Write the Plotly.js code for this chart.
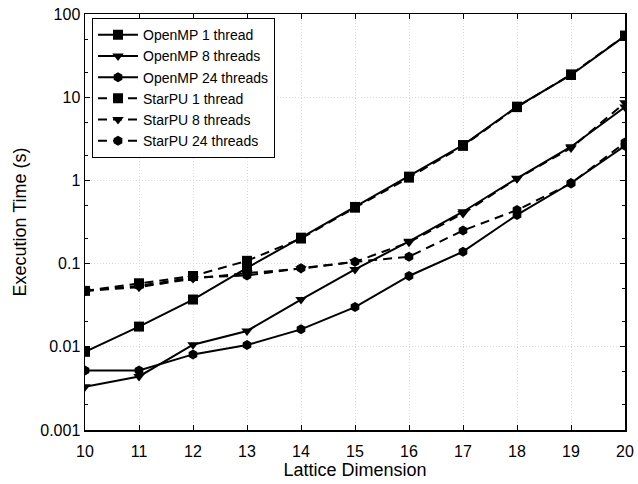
<!DOCTYPE html>
<html>
<head>
<meta charset="utf-8">
<script src="https://cdn.plot.ly/plotly-3.0.1.min.js"></script>
<style>html,body{margin:0;padding:0;background:#fff;}#chart{width:638px;height:484px;}</style>
</head>
<body>
<div id="chart"></div>
<script>
const latticeDims = [10, 11, 12, 13, 14, 15, 16, 17, 18, 19, 20];
const openmp1 = [0.0087, 0.0175, 0.037, 0.089, 0.205, 0.48, 1.11, 2.66, 7.7, 18.5, 54.5];
const openmp8 = [0.0033, 0.0044, 0.0106, 0.0155, 0.037, 0.085, 0.185, 0.42, 1.06, 2.54, 7.6];
const openmp24 = [0.0052, 0.0052, 0.0081, 0.0105, 0.0162, 0.030, 0.071, 0.139, 0.385, 0.93, 2.6];
const starpu1 = [0.047, 0.058, 0.071, 0.108, 0.200, 0.47, 1.08, 2.6, 7.6, 18.8, 55];
const starpu8 = [0.047, 0.052, 0.066, 0.077, 0.087, 0.105, 0.18, 0.40, 1.05, 2.45, 8.6];
const starpu24 = [0.047, 0.054, 0.068, 0.072, 0.088, 0.105, 0.121, 0.25, 0.44, 0.92, 2.85];
const seriesNames = ["OpenMP 1 thread", "OpenMP 8 threads", "OpenMP 24 threads", "StarPU 1 thread", "StarPU 8 threads", "StarPU 24 threads"];
const xTickLabels = ["10","11","12","13","14","15","16","17","18","19","20"];

const seriesData = [openmp1, openmp8, openmp24, starpu1, starpu8, starpu24];
const symbols = ["square", "triangle-down", "hexagon", "square", "triangle-down", "hexagon"];
const sizes = [10, 10, 10, 10, 10, 10];
const traces = seriesData.map((ys, i) => ({
  x: latticeDims, y: ys, name: seriesNames[i], type: "scatter", mode: "lines+markers",
  line: {color: "#000", width: 2, dash: i >= 3 ? "9px,6px" : "solid"},
  marker: {color: "#000", symbol: symbols[i], size: sizes[i]}
}));

const layout = {
  width: 638, height: 484,
  margin: {l: 85, r: 13, t: 14, b: 54},
  paper_bgcolor: "#fff", plot_bgcolor: "#fff",
  font: {family: "Liberation Sans, Arial, sans-serif", color: "#000", size: 16},
  showlegend: true,
  legend: {x: 0.013, y: 0.99, xanchor: "left", yanchor: "top", bgcolor: "#fff",
    bordercolor: "#000", borderwidth: 1, font: {size: 14}, tracegroupgap: 0, itemwidth: 40},
  xaxis: {range: [10, 20], tickvals: latticeDims, ticktext: xTickLabels, tickfont: {size: 16},
    ticklabelstandoff: 6,
    ticks: "inside", ticklen: 5, tickcolor: "#000", showline: true, linecolor: "#000", linewidth: 1.5,
    mirror: "ticks", showgrid: true, gridcolor: "#dcdcdc", griddash: "1px,2px", gridwidth: 1, zeroline: false,
    title: {text: "Lattice Dimension", font: {size: 18}, standoff: 2}},
  yaxis: {type: "log", range: [-3, 2], tickvals: [0.001, 0.01, 0.1, 1, 10, 100],
    ticktext: ["0.001", "0.01", "0.1", "1", "10", "100"], tickfont: {size: 16},
    ticks: "inside", ticklen: 5, tickcolor: "#000", showline: true, linecolor: "#000", linewidth: 1.5,
    mirror: "ticks", showgrid: true, gridcolor: "#dcdcdc", griddash: "1px,2px", gridwidth: 1, zeroline: false,
    minor: {tickvals: [0.002,0.005,0.02,0.05,0.2,0.5,2,5,20,50], ticks: "inside", ticklen: 3, tickcolor: "#000", showgrid: false},
    title: {text: "Execution Time (s)", font: {size: 18}, standoff: 9}}
};

Plotly.newPlot("chart", traces, layout, {displayModeBar: false, staticPlot: true});
</script>
</body>
</html>
